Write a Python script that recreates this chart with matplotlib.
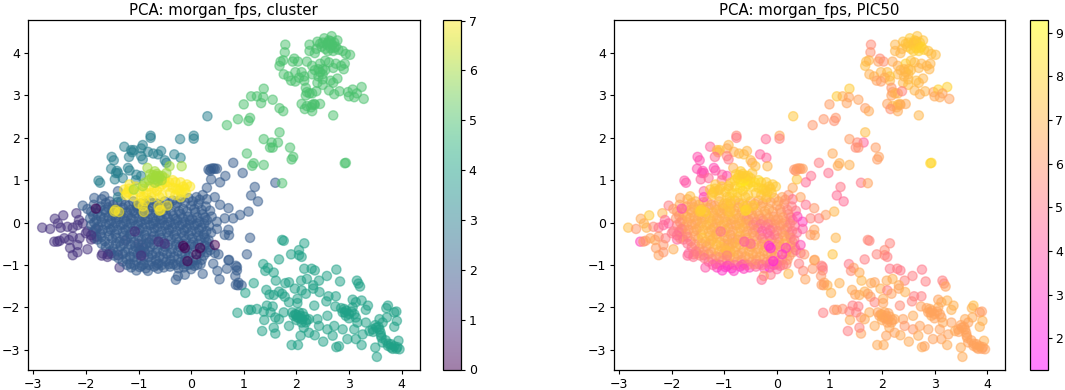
import numpy as np
import matplotlib
matplotlib.use("Agg")
import matplotlib.pyplot as plt

# Each entry: (PC1, PC2, PIC50)
cluster0 = [(-.15,-.55,2.6),(-.12,-.6,2.4),(.17,-.6,3.0),(.45,-.53,3.6),(-.07,-.91,2.2),(-1.81,.33,3.6),(.1,-.75,2.8)]
cluster1 = [(-2.83,-.12,7.2),(-2.68,-.15,6.0),(-2.59,.09,6.6),(-2.43,.17,7.6),(-2.18,.22,7.0),(-2.53,-.02,6.8),
 (-2.48,-.12,6.9),(-2.35,-.1,5.6),(-2.25,-.12,5.0),(-2.16,-.06,4.4),(-2.06,-.02,4.3),(-2.13,.06,4.6),(-1.97,-.21,5.2),
 (-2.6,-.45,3.4),(-2.54,-.45,6.0),(-2.5,-.43,6.0),(-2.41,-.37,6.4),(-2.32,-.41,6.6),(-2.25,-.33,6.0),(-2.12,-.37,5.2),
 (-2.16,-.53,6.0),(-2.3,-.6,6.2),(-2.25,-.77,6.4),(-2.16,-.7,6.0),(-1.97,-.63,6.7),(-1.84,-.37,6.4),(-1.8,-.33,7.8),
 (-1.59,-.81,4.8),(-1.68,-.73,4.2),(-1.52,-.73,6.2),(-1.39,-.77,6.0),(-1.36,-1.06,4.0),(-.95,-.73,6.3),
 (-.97,-.65,6.5),(-.9,-.8,6.4),(-.9,-.6,6.6),(-.75,-.4,4.4),(-1.25,-.42,7.6),(-1.0,-.5,6.8),(-1.8,-.15,5.0),(-1.9,-.4,4.4)]
cluster1_over = [(-1.07,-.21,5.0),(-.62,-.45,4.0),(-.5,-.5,4.6),(-.95,-.78,5.4),(-1.9,-.3,4.6),(-2.0,-.25,5.0),(-1.7,-.78,4.6),(-1.58,-.75,5.0)]
cluster2_edge = [(-2.06,.4,5.2),(-1.97,.32,6.2),(-1.84,.58,6.4),(-1.65,.62,7.2),(-1.39,.74,4.4),(.3,.82,6.5),(.33,1.25,6.0),
 (.38,1.27,6.2),(.45,1.27,6.0),(.49,1.27,6.4),(.65,1.1,4.8),(.55,.95,4.6),(.38,1.02,7.5),(.8,1.41,5.2),(.98,1.17,4.8),
 (1.6,.94,5.0),(1.21,.84,5.0),(1.14,.64,4.6),(1.27,.5,4.6),(.45,.6,6.4),(.55,.42,4.8),(.71,.34,6.0),(.8,.1,5.2),(.93,.18,6.2),
 (1.09,.26,7.0),(.39,.14,3.6),(.49,.02,3.2),(.64,.1,5.4),(.49,-.15,4.2),(.71,-.17,6.4),(.64,-.29,6.0),(.72,-.3,6.5),
 (.33,-.41,5.0),(.36,-.65,5.0),(.45,-.72,4.6),(.52,-.75,6.0),(.42,-.97,5.2),(.5,-1.14,5.6),(.71,-.89,6.6),(.68,-1.09,6.0),
 (.87,-1.05,5.0),(.87,-1.13,5.2),(.84,-1.26,6.0),(.89,-1.48,6.5),(.96,-1.48,6.8),(.54,-1.34,6.4),(.22,-1.21,7.0),
 (-.12,-1.23,5.0),(-.25,-1.26,6.2),(-.29,-1.35,4.6),(-.82,-1.14,3.2),(-1.04,-1.13,3.0),(-.63,-1.09,3.2),(1.06,-.75,7.4),(1.12,-.36,7.0),
 (.72,-.88,6.4),(.85,-1.02,5.4),(.9,-1.42,6.4),(.85,-1.47,6.2),(.36,1.22,6.0),(.42,1.28,6.2)]
cluster2_core = [
 (-1.7,.55,6.6),(-1.55,.5,6.8),(-1.4,.48,7.0),(-1.25,.42,5.2),(-1.1,.5,6.5),(-.95,.45,6.8),(-.8,.52,6.4),(-.65,.45,6.9),(-.5,.5,6.6),(-.35,.52,6.2),(-.2,.55,6.8),(-.05,.58,6.4),(.1,.6,6.5),(.22,.65,5.8),(.3,.55,4.8),
 (-1.85,.42,6.6),(-1.72,.38,6.4),(-1.58,.36,6.9),(-1.44,.32,6.2),(-1.3,.35,6.6),(-1.15,.3,7.0),(-1.02,.34,6.5),(-.88,.32,6.3),(-.74,.36,6.8),(-.6,.3,6.2),(-.46,.35,6.0),(-.3,.38,6.4),(-.15,.32,6.8),(0,.4,6.3),(.14,.44,5.6),(.28,.38,5.2),
 (-1.9,.26,6.2),(-1.78,.22,6.8),(-1.62,.24,6.0),(-1.48,.18,6.6),(-1.34,.2,7.0),(-1.2,.16,6.4),(-1.06,.22,6.2),(-.92,.16,7.2),(-.78,.2,6.6),(-.62,.14,5.6),(-.48,.2,6.4),(-.34,.16,6.0),(-.2,.2,6.6),(-.06,.14,5.8),(.08,.24,6.2),(.22,.2,5.4),(.36,.28,5.0),
 (-1.92,.1,6.0),(-1.8,.06,6.4),(-1.66,.1,6.8),(-1.52,.04,6.4),(-1.38,.08,6.2),(-1.24,.02,7.1),(-1.1,.06,6.6),(-.96,.02,6.3),(-.82,.08,6.5),(-.68,.02,6.8),(-.54,.06,5.4),(-.4,.01,5.0),(-.26,.05,5.4),(-.12,.01,6.2),(.02,.08,6.4),(.16,.02,6.0),(.3,.06,5.0),
 (-1.9,-.06,5.2),(-1.76,-.1,6.2),(-1.62,-.05,6.0),(-1.48,-.11,6.6),(-1.34,-.06,7.4),(-1.2,-.12,6.0),(-1.06,-.08,6.7),(-.92,-.13,6.4),(-.78,-.06,6.0),(-.64,-.12,6.6),(-.5,-.07,5.8),(-.36,-.13,4.8),(-.22,-.08,4.6),(-.08,-.13,5.0),(.06,-.07,6.0),(.2,-.12,5.6),(.34,-.08,4.8),
 (-1.86,-.22,5.0),(-1.72,-.26,6.0),(-1.58,-.2,6.4),(-1.44,-.27,7.3),(-1.3,-.22,6.8),(-1.16,-.28,6.2),(-1.02,-.23,6.4),(-.88,-.29,6.0),(-.74,-.22,6.6),(-.6,-.28,6.2),(-.46,-.23,5.6),(-.32,-.29,4.6),(-.18,-.24,4.2),(-.04,-.29,5.4),(.1,-.23,6.0),(.24,-.28,5.0),(.38,-.24,4.6),
 (-1.78,-.4,5.0),(-1.64,-.44,5.6),(-1.5,-.38,6.2),(-1.36,-.45,6.6),(-1.22,-.39,7.0),(-1.08,-.46,6.6),(-.94,-.4,6.2),(-.8,-.47,6.5),(-.66,-.4,6.4),(-.52,-.46,6.6),(-.38,-.4,6.0),(-.24,-.46,5.4),(-.1,-.4,4.8),(.04,-.46,5.6),(.18,-.4,6.8),(.3,-.46,6.0),
 (-1.62,-.58,5.0),(-1.48,-.62,5.8),(-1.34,-.56,6.2),(-1.2,-.63,6.6),(-1.06,-.57,7.4),(-.92,-.52,6.4),(-.78,-.58,6.8),(-.64,-.64,6.2),(-.5,-.57,6.4),(-.36,-.63,6.4),(-.22,-.58,6.8),(-.08,-.64,6.4),(.06,-.57,6.0),(.2,-.64,7.2),(.34,-.58,6.0),
 (-1.46,-.78,5.4),(-1.3,-.74,5.8),(-1.16,-.8,6.0),(-1.02,-.74,6.4),(-.88,-.7,7.4),(-.74,-.76,6.4),(-.6,-.8,6.2),(-.46,-.74,6.4),(-.32,-.8,6.6),(-.18,-.74,6.4),(-.04,-.8,6.2),(.1,-.88,6.0),(.24,-.78,6.0),
 (-1.3,-.92,4.4),(-1.16,-.97,3.8),(-1.04,-.9,5.4),(-.9,-.98,4.0),(-.76,-.92,5.6),(-.62,-.97,4.6),(-.48,-.92,6.0),(-.34,-.98,4.4),(-.2,-.93,5.8),(-.06,-1.0,3.8),(.06,-1.02,4.6),(.18,-.98,5.6),
 (-1.14,-1.06,3.2),(-.98,-1.05,3.0),(-.86,-1.08,2.8),(-.7,-1.04,3.0),(-.52,-1.06,3.4),(-.4,-1.04,4.4),(-.24,-1.08,3.6),(-.14,-1.06,2.6),(.0,-1.1,4.4)]
cluster2_fill = [
 (-1.62,.46,6.4),(-1.48,.42,6.8),(-1.33,.5,6.6),(-1.18,.4,6.6),(-1.03,.4,7.0),(-.88,.44,6.6),(-.72,.46,6.8),(-.57,.4,6.6),(-.42,.44,6.8),(-.27,.46,6.6),(-.12,.48,6.4),(.03,.5,6.6),(.16,.54,6.0),
 (-1.78,.32,6.6),(-1.64,.3,6.8),(-1.5,.27,7.0),(-1.37,.26,6.6),(-1.22,.24,6.9),(-1.09,.28,7.0),(-.95,.26,6.8),(-.81,.28,7.0),(-.67,.24,6.6),(-.53,.27,6.4),(-.38,.26,6.8),(-.23,.27,6.6),(-.08,.26,6.4),(.06,.32,6.2),(.2,.3,5.6),
 (-1.86,.16,6.0),(-1.72,.14,6.6),(-1.57,.14,6.6),(-1.43,.12,6.8),(-1.28,.11,7.2),(-1.14,.1,6.8),(-1.0,.12,6.8),(-.87,.07,7.0),(-.73,.11,6.9),(-.58,.08,6.2),(-.44,.11,6.4),(-.3,.09,6.2),(-.16,.11,6.4),(-.02,.05,6.2),(.12,.12,6.2),(.26,.12,5.4),
 (-1.84,0,5.8),(-1.7,.01,6.5),(-1.56,-.03,6.6),(-1.43,-.02,6.8),(-1.29,-.04,7.0),(-1.15,-.03,6.8),(-1.01,-.05,7.0),(-.87,-.04,6.6),(-.72,-.03,6.8),(-.59,-.03,6.8),(-.45,-.05,5.6),(-.31,-.04,5.2),(-.17,-.04,5.4),(-.03,-.05,6.0),(.11,-.02,6.2),(.25,-.03,5.4),
 (-1.82,-.15,5.4),(-1.68,-.17,6.2),(-1.53,-.16,6.6),(-1.4,-.17,7.0),(-1.25,-.17,6.9),(-1.12,-.2,6.8),(-.98,-.17,6.9),(-.84,-.2,6.6),(-.7,-.14,6.9),(-.56,-.2,6.6),(-.42,-.17,6.0),(-.28,-.2,4.4),(-.13,-.18,4.8),(.01,-.2,5.6),(.15,-.17,6.0),(.29,-.2,5.2),
 (-1.7,-.34,5.4),(-1.56,-.31,6.4),(-1.42,-.36,7.4),(-1.28,-.32,7.0),(-1.14,-.36,7.0),(-1.0,-.33,6.8),(-.85,-.37,6.6),(-.71,-.32,7.0),(-.57,-.36,6.6),(-.43,-.32,6.4),(-.28,-.37,5.4),(-.14,-.32,4.6),(.02,-.37,5.4),(.14,-.32,6.4),(.26,-.36,5.8),
 (-1.7,-.5,4.8),(-1.56,-.52,5.8),(-1.43,-.5,6.6),(-1.28,-.5,6.9),(-1.15,-.52,7.2),(-1.0,-.6,6.9),(-.85,-.5,6.8),(-.71,-.52,7.0),(-.57,-.52,6.6),(-.43,-.52,6.6),(-.29,-.52,6.4),(-.15,-.5,6.6),(0,-.52,6.2),(.13,-.5,6.8),(.26,-.54,6.4),
 (-1.54,-.68,5.2),(-1.39,-.68,6.0),(-1.25,-.7,6.4),(-1.1,-.68,6.9),(-.96,-.66,7.2),(-.81,-.68,6.8),(-.67,-.72,6.6),(-.53,-.68,6.8),(-.39,-.72,6.6),(-.25,-.68,6.6),(-.11,-.72,6.4),(.03,-.7,6.2),(.17,-.72,6.8),(.3,-.7,6.0),
 (-1.38,-.84,5.0),(-1.23,-.86,5.6),(-1.09,-.82,6.0),(-.95,-.88,6.0),(-.81,-.82,6.8),(-.67,-.88,6.2),(-.53,-.84,6.6),(-.39,-.88,6.4),(-.25,-.86,6.4),(-.11,-.88,6.2),(.03,-.9,5.8),(.2,-.88,6.0),
 (-1.22,-1.0,4.2),(-1.08,-1.0,4.4),(-.94,-1.02,3.4),(-.8,-1.0,4.8),(-.66,-1.0,4.0),(-.56,-1.0,5.2),(-.42,-.98,5.6),(-.28,-1.0,5.0),(-.14,-.98,4.6),(.0,-.98,4.4),(.12,-1.0,5.2)]
cluster3 = [(-.77,2.05,5.6),(-.77,2.0,5.0),(-.21,1.97,4.6),(.05,2.05,6.6),(.05,1.98,5.2),(-1.27,1.79,4.4),(-.92,1.83,7.0),(-.95,1.75,6.6),
 (-1.14,1.71,7.0),(-1.09,1.71,7.4),(-1.12,1.66,7.0),(-.82,1.67,6.8),(-.72,1.63,7.0),(-.63,1.61,7.2),(-.57,1.69,7.0),(-1.18,1.55,4.6),(-.95,1.57,5.4),
 (-.92,1.49,5.0),(-.32,1.61,4.4),(-.2,1.53,4.4),(-1.51,1.55,3.8),(-1.47,1.47,3.8),(-.5,1.47,7.2),(-.47,1.41,6.6),(-1.52,1.27,3.8),
 (-1.43,1.17,3.6),(-1.39,1.17,3.6),(-1.41,1.22,3.8),(-1.2,1.29,3.6),(-1.17,1.23,4.0),(-1.45,1.02,4.4),(-1.04,1.13,4.2),(-.95,1.1,3.8),(-1.76,.99,4.0),
 (-1.73,.94,4.0),(-1.39,.6,3.4),(-1.3,1.05,4.6),(-1.05,1.0,4.8),(.31,2.51,7.5)]
cluster4 = [(1.73,-.41,5.6),(1.76,-.43,5.4),(2.15,-.49,5.4),(2.05,-.65,5.6),(1.9,-.75,5.4),(2.05,-.77,5.6),(2.1,-.81,5.2),(1.67,-.87,5.2),
 (1.37,-.98,5.0),(1.46,-1.07,6.2),(1.41,-1.14,5.6),(1.57,-1.18,6.6),(1.61,-1.37,7.0),(2.15,-1.09,5.0),(2.29,-1.09,5.2),(2.35,-1.13,5.0),
 (2.58,-1.26,5.2),(2.76,-1.11,5.0),(2.83,-1.39,5.2),(3.15,-1.37,5.2),(3.18,-1.44,5.6),(3.21,-1.51,6.4),(2.43,-1.37,5.4),(2.2,-1.33,6.8),
 (2.09,-1.37,6.6),(1.86,-1.41,6.4),(1.79,-1.43,6.6),(1.19,-1.43,6.8),(1.03,-1.66,6.9),(1.43,-1.59,6.6),(1.49,-1.7,6.4),(1.67,-1.63,6.8),
 (1.73,-1.68,6.4),(1.78,-1.75,6.2),(1.57,-1.71,6.6),(1.97,-1.56,6.8),(2.1,-1.6,5.2),(2.18,-1.68,6.4),(2.32,-1.48,6.6),(2.32,-1.56,6.4),
 (2.44,-1.64,6.8),(2.61,-1.74,5.2),(2.75,-1.74,5.2),(2.57,-1.86,5.4),(2.02,-1.8,6.6),(1.86,-1.88,5.4),(2.02,-1.9,6.4),(2.34,-1.96,5.6),
 (3.07,-1.82,6.4),(3.13,-1.88,6.6),(3.24,-1.84,6.8),(3.36,-1.96,6.8),(2.74,-1.98,6.4),(2.91,-2.04,6.6),(3.07,-2.0,6.6),(3.32,-2.06,6.8),
 (3.74,-1.96,7.2),(3.71,-2.02,6.8),(3.9,-2.1,6.2),(3.86,-2.12,6.2),(.88,-2.13,5.2),(1.09,-2.06,5.8),(1.14,-2.06,6.2),(1.25,-2.04,5.8),
 (1.38,-2.1,5.4),(1.44,-1.96,5.2),(1.55,-1.98,5.2),(1.39,-2.3,6.6),(1.35,-2.56,5.2),(1.6,-2.62,6.4),(1.57,-2.48,5.4),(1.51,-2.12,5.2),
 (1.6,-2.24,5.8),(1.67,-2.28,6.6),(1.76,-2.12,6.6),(1.86,-2.44,6.6),(1.95,-2.2,6.4),(2.02,-2.24,6.6),(2.05,-2.12,6.6),(2.11,-2.28,6.4),
 (2.18,-2.36,6.4),(2.24,-2.28,6.6),(2.14,-2.48,6.6),(2.24,-2.6,6.4),(2.08,-2.67,6.4),(2.03,-2.89,6.6),(1.91,-2.89,6.6),(2.35,-2.66,6.6),
 (2.4,-2.28,6.4),(2.43,-2.44,6.0),(2.51,-2.81,6.6),(2.59,-2.2,6.6),(2.59,-2.52,6.0),(2.69,-2.67,6.6),(2.72,-2.44,6.4),(2.88,-2.52,6.4),
 (2.76,-2.94,6.6),(2.81,-2.92,6.4),(2.94,-2.2,6.6),(2.88,-2.12,6.4),(3.0,-2.16,6.4),(3.13,-2.24,6.4),(3.16,-2.36,6.6),(3.1,-2.52,6.4),
 (2.97,-2.75,6.4),(3.13,-2.75,6.4),(3.24,-2.89,6.6),(3.32,-2.36,6.4),(3.26,-2.64,6.4),(3.45,-2.52,6.4),(3.39,-2.56,6.6),(3.58,-2.28,6.6),
 (3.64,-2.36,6.4),(3.72,-2.24,6.6),(3.91,-2.32,6.8),(3.86,-2.46,6.8),(3.58,-2.52,6.4),(3.61,-2.67,6.4),(3.64,-2.83,6.4),(3.5,-2.95,6.6),
 (3.53,-3.17,6.6),(3.74,-2.91,6.4),(3.83,-2.98,6.4),(3.94,-2.79,6.8),(3.96,-2.99,6.4),(3.9,-2.98,6.2),(3.8,-2.87,6.4),
 (1.98,-2.16,6.4),(2.08,-2.2,6.4),(2.0,-2.3,6.6),(2.1,-2.36,6.4),(2.92,-2.12,6.4),(3.0,-2.26,6.4),(3.52,-2.48,6.4),(3.6,-2.6,6.4),(3.7,-2.78,6.4),(3.86,-2.92,6.4),(3.75,-2.86,6.4),
 (1.92,-2.12,6.4),(2.0,-2.18,6.6),(2.06,-2.26,6.4),(2.15,-2.22,6.6),(2.12,-2.14,6.4),(2.2,-2.3,6.4),(2.85,-2.02,6.4),(2.95,-2.08,6.4),(3.05,-2.1,6.4),(3.1,-2.16,6.4),(3.5,-2.42,6.4),(3.56,-2.46,6.4),(3.46,-2.58,6.4),(3.62,-2.72,6.4),(3.8,-2.95,6.4),(3.92,-2.94,6.4)]
cluster5 = [(2.67,4.40,7.4),(2.53,4.35,7.6),(2.4,4.27,7.4),(2.25,4.2,7.0),(1.79,4.2,5.6),(2.78,4.3,7.4),(2.62,4.3,7.6),(2.72,4.25,7.6),
 (2.58,4.2,8.0),(2.68,4.2,8.2),(2.48,4.15,7.6),(2.55,4.1,7.6),(2.65,4.12,7.8),(2.75,4.15,8.0),(2.45,4.22,7.4),(2.38,4.1,7.2),(2.25,4.05,7.0),
 (1.78,4.02,5.8),(2.8,4.08,7.8),(2.88,4.05,7.4),(2.94,3.98,7.2),(3.02,3.96,7.2),(2.6,4.05,7.6),(2.7,4.05,7.8),(2.35,4.0,7.0),(2.6,4.25,7.6),(2.65,4.28,7.4),(2.5,4.25,7.4),(2.72,4.12,7.8),
 (1.7,3.8,7.2),(1.68,3.7,7.2),(1.75,3.83,7.0),(1.96,3.87,5.6),(1.93,3.8,6.4),(2.03,3.8,5.8),(2.2,3.8,6.6),(2.3,3.7,6.8),(2.45,3.75,7.8),
 (2.55,3.82,7.4),(2.62,3.78,7.2),(2.75,3.75,7.0),(2.85,3.7,7.0),(2.9,3.62,7.0),(2.92,3.75,7.0),(2.7,3.65,7.0),(2.35,3.6,7.0),(2.45,3.55,7.0),(2.42,3.62,7.0),(2.5,3.62,7.0),
 (2.5,3.5,7.2),(2.42,3.45,7.0),(2.55,3.6,7.2),(2.5,3.38,7.0),(2.3,3.5,7.0),(2.15,3.45,7.6),(2.1,3.55,7.2),(1.98,3.55,7.0),(1.76,3.5,6.8),
 (1.85,3.45,6.8),(2.05,3.42,6.6),(2.15,3.35,7.0),(1.9,3.35,6.4),(1.98,3.33,6.2),(2.4,3.3,7.0),(2.5,3.25,7.2),(2.78,3.4,7.0),(2.7,3.3,7.0),
 (2.65,3.35,7.2),(2.18,3.18,6.0),(2.2,3.08,6.2),(2.18,3.0,6.4),(2.25,3.05,6.8),(2.3,3.05,6.8),(2.38,3.1,5.4),(2.62,3.12,7.0),(2.82,3.1,7.0),
 (2.72,3.03,6.8),(2.98,3.08,6.4),(3.07,3.14,7.8),(3.24,3.2,7.8),(3.0,2.98,6.6),(3.1,2.96,6.6),(3.28,2.92,6.4),(3.15,3.05,6.4),
 (2.1,2.8,6.4),(2.2,2.75,7.0),(2.3,2.78,7.0),(2.35,2.78,6.2),(2.28,2.72,6.8),(2.34,2.8,7.0),(2.45,2.8,6.6),(2.16,2.68,5.8),(2.3,2.63,6.6),
 (2.7,2.53,7.0),(1.38,3.16,7.6),(1.14,2.98,7.6),(1.25,2.98,6.8),(1.37,2.96,6.4),(1.33,2.82,6.4),(1.55,2.9,6.4),(1.0,2.79,6.2),(1.68,2.7,6.2),
 (1.75,2.63,6.6),(.89,2.44,6.0),(1.12,2.47,6.0),(1.09,2.4,5.8),(.68,2.3,6.0),(1.68,2.13,7.2),(1.38,1.97,6.2),(1.65,1.89,4.4),(1.53,1.89,5.6),
 (1.5,1.77,5.6),(1.55,1.77,5.8),(1.88,1.77,6.2),(1.06,1.63,6.6),(1.94,1.55,6.4),(1.91,1.49,6.2),(1.19,1.4,6.8),(1.16,1.34,6.6),(1.38,1.36,6.8),
 (2.92,1.4,8.0),(2.94,1.41,8.0),(1.73,.93,6.4)]
cluster6 = [(-.83,1.29,6.8),(-.41,1.33,7.2),(-.18,1.33,7.0),(-.69,1.21,7.6),(-.66,1.1,7.8),(-.6,1.1,8.0),(-.75,1.05,7.8),(-.56,1.0,8.0),(-.88,.94,7.6),
 (-.69,.94,8.2),(-.92,.86,7.4),(-1.09,.78,7.4),(-.47,1.17,7.4),(-.78,1.14,7.6),(-.63,.98,8.6),(-.7,1.02,8.2),(-.62,1.05,8.0),(-.8,1.0,7.8),(-.72,1.12,7.8),(-.55,1.1,7.8),(-.65,1.15,7.6)]
cluster7 = [(-1.27,.78,7.4),(-1.2,.72,7.6),(-1.24,.65,7.4),(-1.1,.62,7.4),(-.98,.72,7.8),(-1.05,.85,7.8),(-1.17,.9,7.4),(-.9,.6,7.6),(-.92,.8,7.8),
 (-.8,.85,8.0),(-.75,.7,7.8),(-.55,.9,8.0),(-.5,.95,8.0),(-.45,.85,8.0),(-.4,.7,7.6),(-.3,.95,8.0),(-.25,.8,7.6),(-.22,.75,7.8),(-.15,.85,7.8),
 (-.08,.9,7.6),(-.02,.85,7.6),(-.3,.65,7.4),(-.2,.6,7.4),(-.55,.65,7.6),(-.65,.75,7.8),(-.35,1.0,8.0),(-.5,1.05,8.0),(-1.46,.26,7.8),(-1.37,.25,7.6),
 (-1.44,.3,7.8),(-.92,.38,7.4),(-.9,.25,7.4),(-.6,.28,8.0),(-.62,.38,7.8),(-.58,.3,8.0),(-.45,.4,7.6),(-1.0,.45,7.4),(-.88,.5,7.6),(-.95,.6,7.4),
 (-.2,.95,7.6),(-.1,.7,7.6),(-.75,.6,7.6),(-1.18,.8,7.6),(-1.12,.76,7.6),(-1.22,.7,7.6),(-.85,.7,7.8),(-.7,.82,8.0),(-.6,.85,8.0),(-.35,.82,7.8),(-.28,.78,7.8),(-.42,.95,8.0),(-.12,.8,7.6),(-.18,.72,7.6),(-.6,.6,7.6)]

cluster_ids = [1, 2, 2, 2, 1, 3, 4, 5, 7, 6, 0]
point_groups = [cluster1, cluster2_core, cluster2_fill, cluster2_edge, cluster1_over, cluster3, cluster4, cluster5, cluster7, cluster6, cluster0]

pc1, pc2, pic50, cluster = [], [], [], []
for cid, group in zip(cluster_ids, point_groups):
    for x, y, p in group:
        pc1.append(x); pc2.append(y); pic50.append(p); cluster.append(cid)

title_left = "PCA: morgan_fps, cluster"
title_right = "PCA: morgan_fps, PIC50"
xticks = [-3, -2, -1, 0, 1, 2, 3, 4]
yticks = [-3, -2, -1, 0, 1, 2, 3, 4]

W, H = 1065, 390
plt.rcParams.update({"font.size": 9, "font.family": "DejaVu Sans", "axes.linewidth": 0.9})
fig = plt.figure(figsize=(W/100, H/100), dpi=100)

def box(l, r, t, b):
    return [l/W, 1-b/H, (r-l)/W, (b-t)/H]

ax1 = fig.add_axes(box(28, 419.5, 20.5, 370))
ax2 = fig.add_axes(box(614, 1005, 20.5, 370))
cax1 = fig.add_axes(box(443, 461, 20.5, 369.5))
cax2 = fig.add_axes(box(1030, 1047.5, 20.5, 369.5))

s1 = ax1.scatter(pc1, pc2, c=cluster, cmap="viridis", vmin=0, vmax=7, s=44, alpha=0.5)
s2 = ax2.scatter(pc1, pc2, c=pic50, cmap="spring", vmin=1.29, vmax=9.28, s=44, alpha=0.5)
for ax, t in ((ax1, title_left), (ax2, title_right)):
    ax.set_xlim(-3.1, 4.34)
    ax.set_ylim(-3.48, 4.77)
    ax.set_xticks(xticks)
    ax.set_yticks(yticks)
    ax.tick_params(labelsize=9, length=3, width=0.8, pad=2.5)
    ax.set_title(t, fontsize=10.8, pad=4)

cb1 = fig.colorbar(s1, cax=cax1)
cb2 = fig.colorbar(s2, cax=cax2)
cb1.set_ticks(range(0, 8))
cb2.set_ticks(range(2, 10))
for cb in (cb1, cb2):
    cb.ax.tick_params(labelsize=9, length=3, width=0.8, pad=2.5)

fig.savefig("out.png", dpi=100)
